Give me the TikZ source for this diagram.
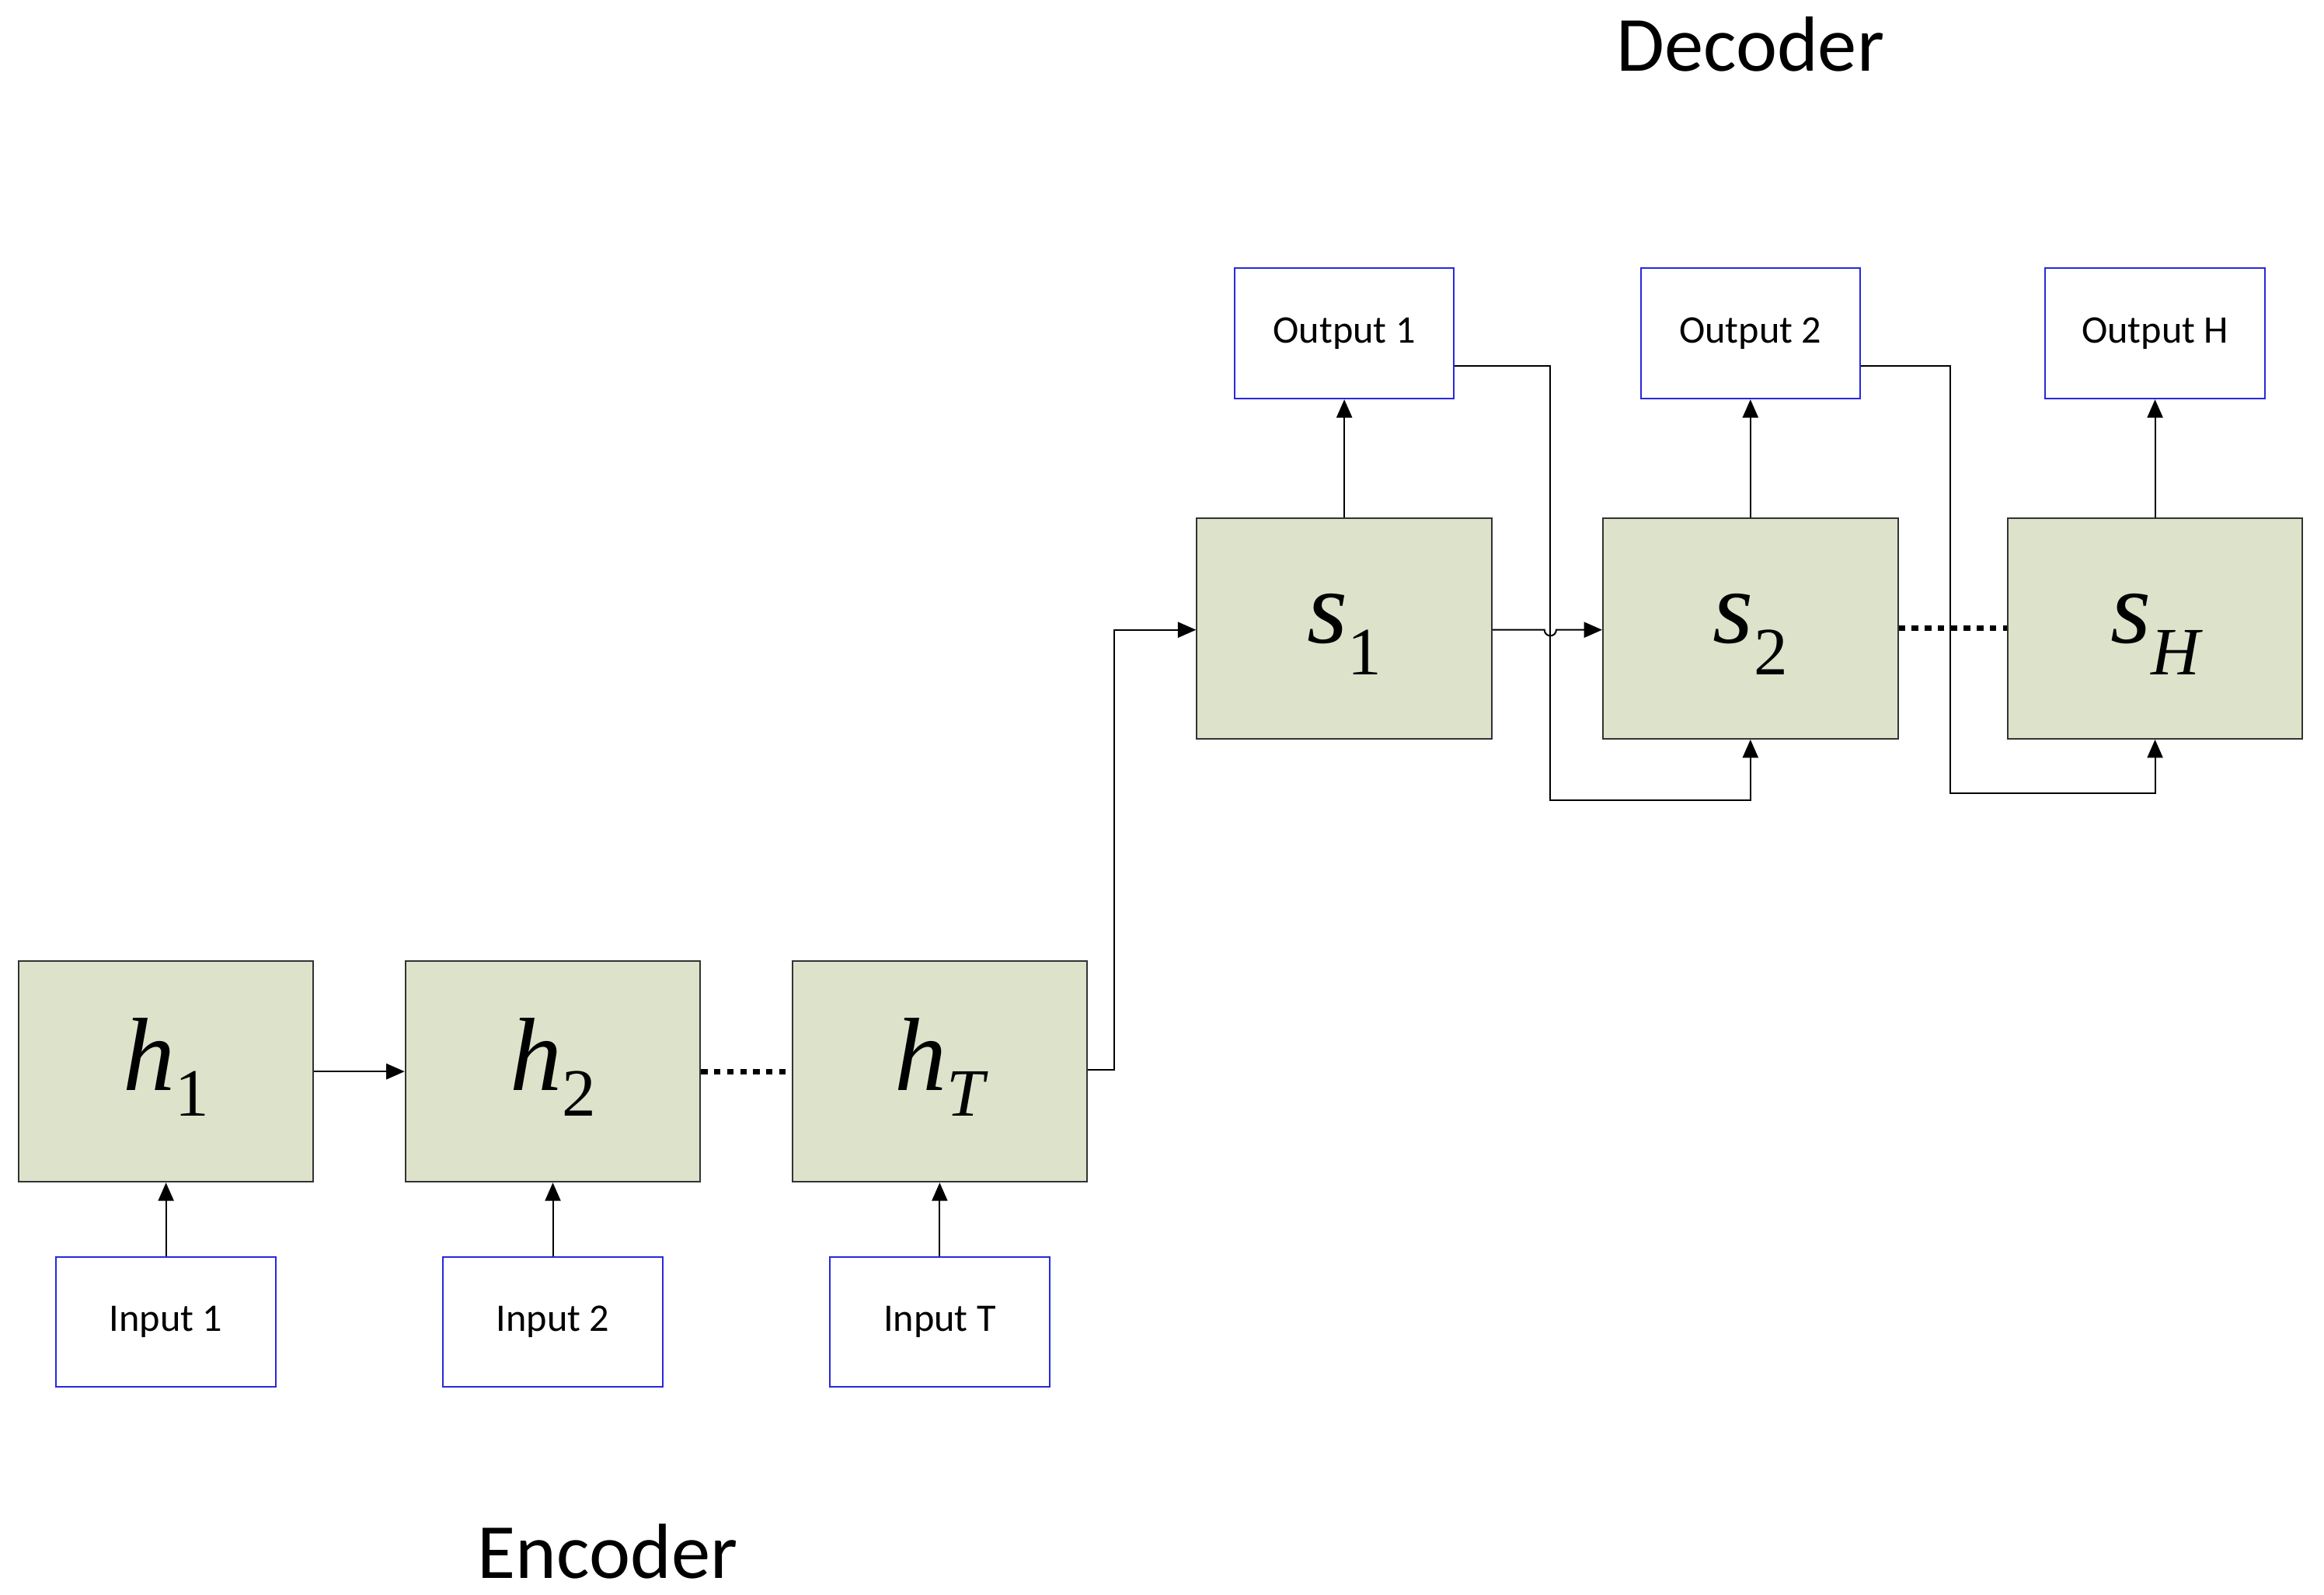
\documentclass[tikz,border=0pt]{standalone}
\usepackage{fontspec}
\setmainfont{Carlito}
\newfontfamily\tms{Liberation Serif}
\usetikzlibrary{arrows.meta}
\begin{document}
\begin{tikzpicture}[x=0.02cm,y=-0.02cm,
  cell/.style={draw=black!80,fill={rgb,255:red,221;green,226;blue,203},minimum width=199*0.02cm,minimum height=149*0.02cm,inner sep=0,line width=0.6pt},
  io/.style={draw={rgb,255:red,40;green,40;blue,220},fill=white,minimum width=148*0.02cm,minimum height=88*0.02cm,inner sep=0,font=\fontsize{15}{18}\selectfont,line width=0.6pt},
  ar/.style={-{Triangle[length=7pt,width=6pt]},line width=0.6pt},
  ln/.style={line width=0.6pt},
  dt/.style={line width=2pt,dash pattern=on 2.5pt off 2.5pt},
  mt/.style={font=\fontsize{40}{44}\selectfont\tms\itshape}]
\useasboundingbox (0,0) rectangle (1568,1076);
\node[cell] (h1) at (112,723) {}; \node[mt] at (112,720) {h\raisebox{-0.25em}{\upshape\fontsize{26}{28}\selectfont 1}};
\node[cell] (h2) at (373,723) {}; \node[mt] at (373,720) {h\raisebox{-0.25em}{\upshape\fontsize{26}{28}\selectfont 2}};
\node[cell] (hT) at (634,723) {}; \node[mt] at (634,720) {h\raisebox{-0.25em}{\fontsize{26}{28}\selectfont T}};
\node[cell] (s1) at (907,424) {}; \node[mt] at (907,428) {s\raisebox{-0.3em}{\upshape\fontsize{26}{28}\selectfont 1}};
\node[cell] (s2) at (1181,424) {}; \node[mt] at (1181,428) {s\raisebox{-0.3em}{\upshape\fontsize{26}{28}\selectfont 2}};
\node[cell] (sH) at (1454,424) {}; \node[mt] at (1454,428) {s\raisebox{-0.3em}{\fontsize{26}{28}\selectfont H}};
\node[io] (i1) at (112,892) {Input 1};
\node[io] (i2) at (373,892) {Input 2};
\node[io] (iT) at (634,892) {Input T};
\node[io] (o1) at (907,225) {Output 1};
\node[io] (o2) at (1181,225) {Output 2};
\node[io] (oH) at (1454,225) {Output H};
\node[font=\fontsize{30}{34}\selectfont] (dec) at (1181,30) {Decoder};
\node[font=\fontsize{30}{34}\selectfont] (enc) at (410,1047) {Encoder};
\draw[ar] (i1) -- (h1); \draw[ar] (i2) -- (h2); \draw[ar] (iT) -- (hT);
\draw[ar] (s1) -- (o1); \draw[ar] (s2) -- (o2); \draw[ar] (sH) -- (oH);
\draw[ar] (h1) -- (h2);
\draw[dt] (h2) -- (hT);
\draw[dt] (s2) -- (sH);
\draw[ar] (hT.east|-0,722) -- (752,722) -- (752,425) -- (s1.west|-0,425);
\draw[ar] (s1.east|-0,425) -- (1042,425) arc (180:0:4) -- (s2.west|-0,425);
\draw[ar] (o1.east|-0,247) -- (1046,247) -- (1046,540) -- (1181,540) -- (s2.south);
\draw[ar] (o2.east|-0,247) -- (1316,247) -- (1316,535) -- (1454,535) -- (sH.south);
\end{tikzpicture}
\end{document}
